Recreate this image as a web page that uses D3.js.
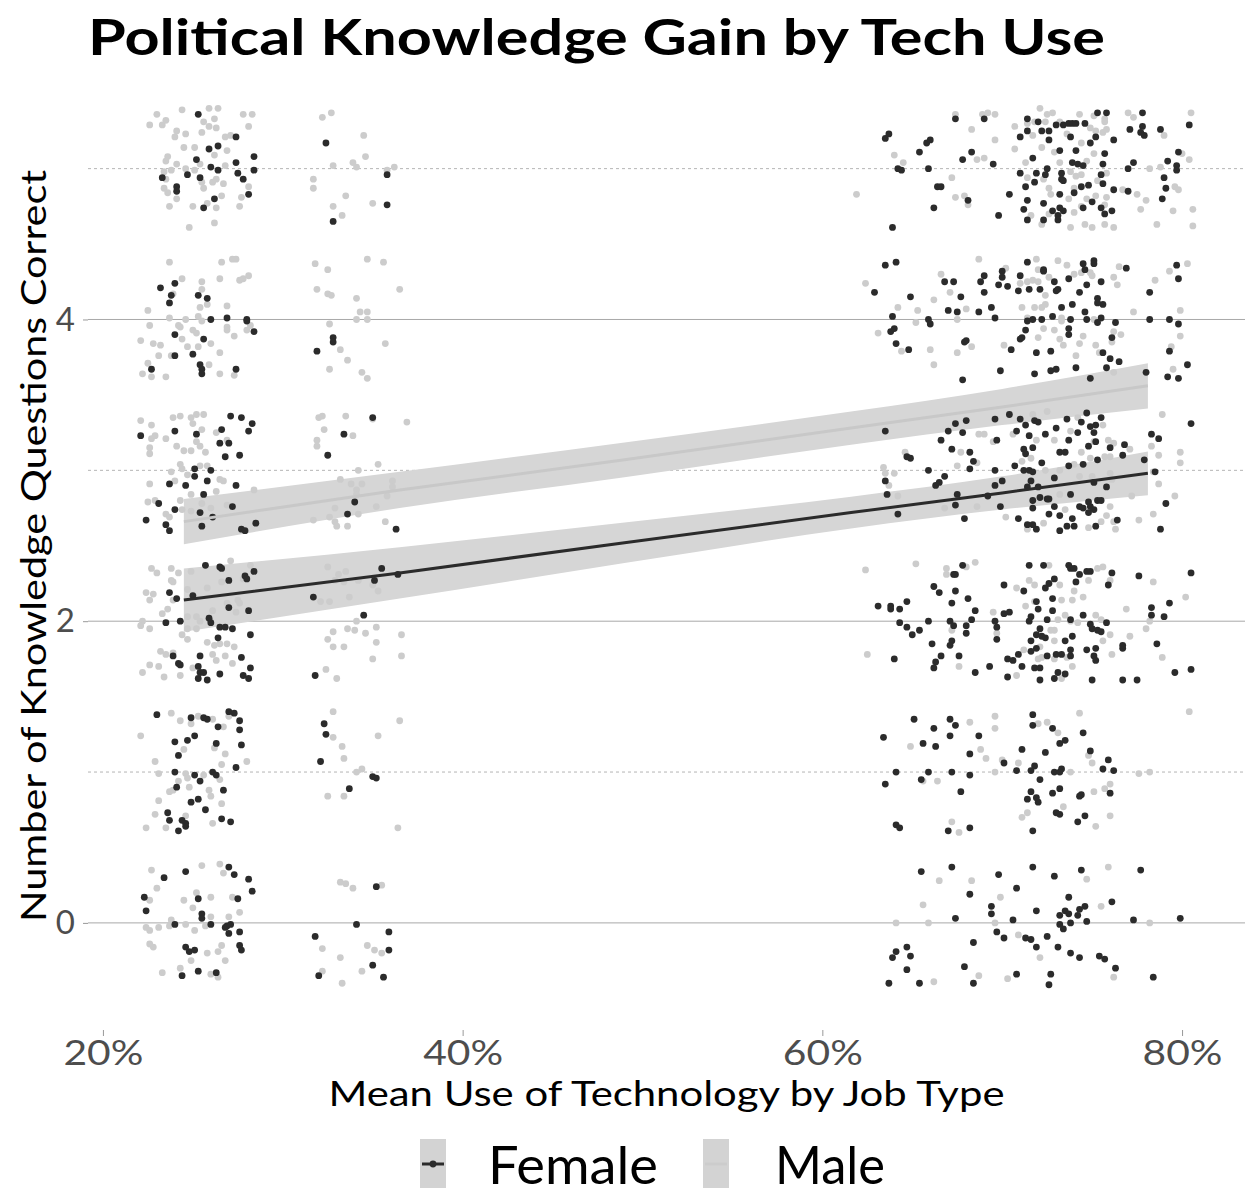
<!DOCTYPE html>
<html lang="en">
<head>
<meta charset="utf-8">
<script src="https://d3js.org/d3.v7.min.js"></script>
<style>
  body { margin: 0; background: #fff; }
  text { font-family: Lato, "Open Sans", sans-serif; }
</style>
</head>
<body>
<svg id="chart" width="1251" height="1195"></svg>
<script>
// jittered points: [mean tech use %, questions correct]
var femalePoints = [
  // low tech, 5
  [25.3,5.36],[27.4,5.21],[25.9,5.13],[26.4,5.15],[25.2,5.06],[27.4,5.04],[28.4,5.08],[26.0,5.01],[26.4,4.99],[23.3,4.94],
  [24.7,4.96],[25.4,4.94],[27.5,4.97],[27.8,4.93],[28.4,4.99],[24.1,4.88],[24.1,4.85],[28.1,4.83],[26.2,4.80],[25.6,4.74],
  [32.4,5.17],[35.8,4.96],[35.8,4.76],[32.8,4.65],
  // low tech, 4
  [23.2,4.21],[24.0,4.24],[23.8,4.16],[23.7,4.11],[25.3,4.16],[25.8,4.14],[26.0,4.00],[26.9,4.01],[28.0,4.00],[28.0,3.99],
  [28.4,3.92],[24.0,3.90],[25.6,3.87],[25.0,3.77],[24.0,3.76],[22.7,3.67],[25.4,3.70],[25.5,3.67],[25.5,3.64],[27.4,3.67],
  [31.9,3.79],[32.8,3.88],[32.8,3.85],
  // low tech, 3
  [22.1,3.23],[24.0,3.26],[25.2,3.24],[27.1,3.36],[27.7,3.35],[28.3,3.31],[26.6,3.27],[28.1,3.26],[26.5,3.18],[27.0,3.18],
  [26.8,3.09],[27.6,3.10],[25.1,3.01],[26.0,3.00],[25.1,2.96],[25.8,2.93],[23.7,2.91],[24.6,2.90],[27.4,2.90],[25.6,2.84],
  [23.1,2.78],[24.0,2.74],[27.2,2.76],[25.4,2.72],[26.1,2.69],[22.4,2.67],[25.5,2.63],[23.5,2.64],[23.7,2.60],[27.7,2.61],
  [27.9,2.60],[28.5,2.65],
  [32.5,3.10],[33.4,3.24],[35.0,3.35],[34.0,2.79],[33.6,2.71],[36.3,2.61],
  // low tech, 2
  [25.7,2.37],[26.5,2.36],[26.6,2.35],[28.4,2.33],[27.9,2.30],[28.0,2.28],[27.0,2.27],[23.7,2.19],[24.1,2.15],[25.0,2.17],
  [27.0,2.09],[28.1,2.07],[24.3,2.00],[23.5,1.99],[25.9,2.02],[26.0,1.99],[26.5,1.96],[26.8,1.96],[27.2,1.95],[28.2,1.91],
  [23.9,1.77],[26.4,1.89],[25.4,1.77],[27.7,1.76],[24.2,1.72],[24.3,1.71],[25.3,1.70],[28.2,1.69],[25.4,1.66],[25.6,1.66],
  [26.5,1.65],[27.8,1.64],[28.1,1.62],[25.3,1.62],[25.8,1.61],
  [31.7,2.16],[34.5,2.04],[31.8,1.64],[35.1,2.27],[35.5,2.35],[36.4,2.31],
  // low tech, 1
  [23.0,1.38],[24.9,1.36],[25.6,1.36],[25.8,1.35],[27.0,1.40],[27.3,1.39],[27.6,1.34],[26.4,1.30],[27.6,1.28],[24.0,1.20],
  [24.7,1.21],[25.1,1.24],[26.3,1.19],[27.7,1.18],[24.2,1.11],[27.4,1.03],[24.0,1.00],[25.1,0.98],[25.4,0.94],[26.1,1.00],
  [26.3,0.98],[24.1,0.90],[26.7,0.88],[24.9,0.80],[25.3,0.82],[25.7,0.75],[23.6,0.73],[23.7,0.68],[24.4,0.68],[24.6,0.66],
  [24.6,0.64],[24.2,0.61],[26.6,0.69],[27.1,0.67],
  [32.3,1.32],[32.4,1.25],[32.1,1.07],[35.0,0.97],[35.2,0.96],[33.7,0.89],
  // low tech, 0
  [24.6,0.34],[23.4,0.30],[27.0,0.37],[27.3,0.32],[28.1,0.29],[28.3,0.21],[22.3,0.17],[22.4,0.08],[25.3,0.16],[25.5,0.06],
  [25.5,0.03],[24.0,-0.01],[26.0,-0.01],[26.8,-0.03],[26.9,-0.02],[27.1,-0.01],[27.0,-0.07],[27.5,0.16],[27.6,-0.06],[27.6,-0.15],
  [27.7,-0.18],[24.6,-0.16],[24.8,-0.19],[25.1,-0.18],[25.3,-0.32],[24.4,-0.35],[26.3,-0.33],
  [35.2,0.24],[34.1,-0.01],[35.9,-0.06],[31.8,-0.09],[35.9,-0.18],[35.0,-0.28],[32.0,-0.35],[35.6,-0.36],
  // high tech, 5
  [63.5,5.20],[63.7,5.23],[64.2,5.00],[64.4,4.99],[63.9,4.61],[65.4,5.11],[65.8,5.17],[66.0,5.19],[65.9,5.00],[66.4,4.88],
  [66.6,4.88],[66.2,4.74],[67.4,5.33],[67.8,5.06],[68.3,5.11],[68.1,4.79],[69.0,5.33],[69.5,5.03],[69.8,4.69],[70.4,4.83],
  [71.0,5.21],[71.4,5.33],[71.4,5.25],[71.7,5.07],[72.0,5.31],[72.2,5.25],[72.6,5.25],[72.6,5.19],[73.0,5.29],[73.4,5.29],
  [73.7,5.30],[73.9,5.30],[74.1,5.30],[74.6,5.30],[75.3,5.37],[75.8,5.37],[73.8,5.21],[75.2,5.21],[76.2,5.19],[73.2,5.12],
  [74.1,5.12],[74.9,5.17],[75.7,5.10],[72.5,5.00],[71.9,4.97],[72.4,4.96],[71.0,4.97],[71.8,4.91],[71.3,4.88],[73.3,4.97],
  [73.9,5.04],[74.2,5.03],[74.5,5.02],[73.3,4.93],[73.4,4.92],[75.5,4.96],[75.6,5.03],[75.6,4.90],[74.8,4.89],[74.4,4.88],
  [76.2,4.86],[73.2,4.83],[71.4,4.79],[72.3,4.77],[71.2,4.73],[72.8,4.72],[73.2,4.74],[73.4,4.72],[73.1,4.69],[74.5,4.74],
  [75.0,4.78],[75.5,4.74],[75.7,4.70],[76.1,4.72],[71.4,4.66],[72.3,4.66],[73.1,4.66],[74.0,4.84],[77.0,5.00],[77.3,5.04],
  [77.0,4.85],[77.1,5.26],[77.8,5.37],[77.8,5.28],[77.7,5.24],[77.9,5.22],[78.8,5.26],[80.4,5.29],[79.8,5.11],[79.2,5.05],
  [79.7,5.02],[79.7,4.99],[79.0,4.94],[79.1,4.87],[78.9,4.80],
  // high tech, 4
  [63.5,4.36],[64.1,4.38],[62.9,4.18],[64.9,4.15],[63.9,4.02],[63.8,3.92],[64.0,3.94],[64.1,3.84],[64.8,3.80],[65.9,4.00],
  [66.0,3.97],[66.8,4.25],[67.3,4.25],[67.0,4.06],[67.5,4.05],[67.7,4.15],[67.9,3.85],[68.0,3.86],[67.8,3.60],[68.7,4.05],
  [68.8,4.25],[69.0,4.29],[69.0,4.18],[69.4,4.08],[69.6,4.01],[70.0,4.32],[70.0,4.28],[69.8,4.23],[70.3,4.22],[69.9,3.66],
  [70.5,3.80],[71.0,4.29],[70.9,4.19],[71.4,4.38],[71.5,4.20],[72.1,4.20],[72.3,4.33],[72.3,4.32],[71.4,3.99],[71.3,3.93],
  [71.0,3.87],[71.1,3.88],[71.7,4.00],[72.2,4.00],[71.9,3.78],[71.8,3.64],[72.7,3.79],[72.7,3.66],[73.0,3.67],[72.8,4.02],
  [72.9,4.25],[73.0,4.19],[73.1,4.20],[73.3,4.08],[73.7,4.27],[73.8,4.00],[73.9,4.10],[73.7,3.94],[73.7,3.90],[74.1,3.68],
  [74.3,4.18],[74.5,4.37],[74.6,4.33],[74.7,4.23],[75.1,4.39],[75.1,4.37],[74.6,4.05],[74.7,4.00],[75.3,4.14],[75.6,4.10],
  [75.3,4.11],[75.5,4.01],[75.3,3.98],[75.5,4.25],[76.1,3.88],[76.3,3.98],[75.6,3.78],[76.0,3.74],[76.5,3.72],[75.8,3.68],
  [74.9,3.61],[76.9,4.34],[78.2,4.18],[78.2,4.00],[79.3,4.00],[79.8,3.97],[79.8,4.27],[79.7,4.36],[79.3,3.79],[78.0,3.65],
  [79.2,3.62],[79.8,3.61],[80.3,3.70],
  // high tech, 3
  [63.5,3.26],[63.5,2.93],[63.6,2.84],[64.2,2.71],[64.7,3.09],[64.9,3.08],[65.9,3.00],[66.3,2.90],[66.5,2.92],[66.8,2.96],
  [66.6,3.20],[67.0,3.26],[67.4,3.31],[67.8,3.25],[68.0,3.33],[67.2,3.14],[68.2,3.12],[68.4,3.06],[68.2,3.01],[67.5,2.84],
  [67.4,2.77],[67.9,2.68],[69.2,2.83],[69.6,3.00],[69.6,2.90],[70.0,2.93],[69.7,3.20],[69.6,3.34],[70.4,3.37],[69.9,2.76],
  [70.9,2.68],[70.7,3.03],[70.8,3.26],[71.0,3.34],[71.3,3.30],[71.5,3.23],[71.2,3.14],[71.3,3.11],[71.7,3.15],[71.2,3.00],
  [71.5,3.00],[71.7,2.99],[71.4,2.89],[71.6,2.93],[72.0,2.89],[71.7,2.80],[71.7,2.75],[72.1,2.82],[72.5,2.81],[72.6,2.81],
  [72.6,2.71],[71.8,3.33],[72.0,3.32],[72.4,3.24],[73.0,3.28],[72.2,3.05],[72.9,2.95],[72.9,2.76],[73.2,2.70],[73.2,3.12],
  [73.5,3.12],[73.7,3.20],[73.6,3.34],[74.2,3.25],[74.4,3.32],[74.7,3.38],[74.9,3.29],[75.2,3.30],[75.1,3.25],[74.8,3.16],
  [75.2,3.19],[75.3,3.07],[74.5,3.04],[73.7,3.03],[73.8,2.84],[74.3,2.76],[74.5,2.75],[74.8,2.79],[74.9,2.76],[75.1,2.74],
  [74.8,2.72],[75.3,2.80],[75.5,2.80],[75.1,2.92],[75.8,2.89],[75.5,3.35],[76.0,3.15],[76.8,3.17],[76.7,3.10],[76.4,2.67],
  [77.9,3.07],[78.3,3.24],[78.7,3.21],[78.5,2.99],[79.1,2.78],[78.8,2.61],[80.5,3.31],[71.4,2.64],[71.7,2.64],[71.9,2.61],
  [73.2,2.60],[73.6,2.63],[74.0,2.63],[75.2,2.63],[73.9,2.68],
  // high tech, 2
  [63.1,2.10],[63.8,2.10],[63.8,2.08],[64.3,2.08],[64.7,2.13],[64.3,1.99],[64.7,1.96],[65.0,1.91],[65.4,1.94],[64.0,1.75],
  [65.9,2.00],[66.1,1.85],[66.6,1.77],[66.3,1.73],[66.2,1.69],[66.2,2.23],[66.5,2.19],[67.2,2.12],[67.4,2.20],[67.3,2.31],
  [67.4,2.31],[67.8,2.37],[68.1,2.15],[68.5,2.07],[67.1,2.00],[67.3,1.97],[68.0,1.97],[68.0,1.92],[68.3,2.01],[67.2,1.87],
  [67.1,1.84],[67.6,1.77],[68.5,1.66],[69.3,1.70],[69.6,2.00],[69.7,1.96],[69.7,1.88],[70.1,2.24],[70.4,2.06],[70.3,1.75],
  [70.6,1.74],[70.3,1.63],[71.1,1.70],[70.9,1.78],[71.5,2.37],[72.3,2.37],[72.4,2.22],[72.6,2.25],[72.9,2.28],[71.2,2.20],
  [71.9,2.13],[72.0,2.08],[72.8,2.15],[72.8,2.07],[71.6,2.03],[71.5,2.00],[72.5,2.01],[72.1,1.95],[71.9,1.91],[72.2,1.90],
  [72.4,1.89],[71.6,1.80],[71.9,1.82],[72.5,1.77],[73.0,1.78],[73.3,1.78],[73.8,1.77],[73.8,1.81],[73.9,1.90],[73.5,1.87],
  [71.8,1.69],[72.1,1.69],[72.1,1.61],[72.9,1.62],[73.1,1.66],[73.5,1.65],[73.7,2.37],[73.8,2.35],[74.0,2.35],[74.3,2.31],
  [74.7,2.33],[74.9,2.33],[74.1,2.26],[73.8,2.01],[74.5,2.04],[74.9,1.98],[75.0,1.95],[75.3,1.94],[75.5,1.93],[75.8,1.99],
  [74.7,1.81],[75.2,1.82],[75.1,1.77],[75.2,1.74],[75.0,1.61],[76.1,2.32],[75.9,2.24],[76.7,1.82],[76.7,1.84],[77.6,2.30],
  [76.7,1.61],[77.5,1.61],[78.3,2.09],[78.3,2.04],[79.0,2.03],[79.3,2.12],[78.6,1.85],[79.6,1.66],[80.5,1.68],[80.5,2.32],
  [70.1,2.05],[71.6,1.87],
  // high tech, 1
  [63.4,1.23],[64.1,1.00],[63.5,0.92],[64.1,0.65],[64.3,0.63],[65.1,1.35],[65.6,1.19],[66.2,1.29],[66.3,1.17],[65.9,1.00],
  [65.5,0.95],[67.1,1.35],[67.4,1.31],[67.1,1.24],[67.2,1.00],[67.7,0.87],[68.2,1.12],[68.2,0.98],[68.7,1.24],[68.2,0.63],
  [67.0,0.61],[70.1,1.06],[70.8,1.01],[71.1,1.15],[71.6,1.01],[71.8,1.04],[71.7,1.38],[71.7,1.31],[72.1,0.95],[72.4,1.13],
  [71.6,0.87],[71.4,0.82],[71.9,0.83],[72.0,0.80],[71.7,0.61],[72.8,1.29],[73.2,1.19],[73.5,1.21],[72.9,1.00],[73.2,1.00],
  [73.3,1.02],[73.2,0.89],[72.8,0.86],[73.0,0.73],[73.2,0.72],[74.5,1.26],[74.9,1.14],[74.3,0.84],[74.4,0.85],[74.6,0.71],
  [74.2,0.67],[75.6,1.02],[75.9,1.08],[76.2,1.01],[76.0,0.86],
  // high tech, 0
  [65.5,0.34],[67.2,0.37],[64.7,-0.16],[64.1,-0.19],[63.9,-0.23],[64.9,-0.22],[64.7,-0.31],[63.7,-0.40],[65.4,-0.40],[67.4,0.03],
  [68.2,0.19],[68.4,-0.13],[67.9,-0.29],[68.4,-0.40],[69.8,0.32],[69.4,0.11],[69.4,0.06],[69.7,-0.06],[70.1,-0.10],[70.6,0.02],
  [70.8,0.23],[70.8,-0.34],[71.3,-0.10],[71.6,-0.11],[71.7,0.37],[71.9,0.08],[71.9,-0.16],[72.5,-0.09],[72.6,-0.41],[72.7,-0.34],
  [72.9,0.31],[73.1,-0.16],[73.2,0.05],[73.5,0.08],[73.7,0.06],[73.2,-0.01],[73.4,-0.04],[73.8,0.00],[73.7,0.17],[74.3,0.09],
  [74.6,0.11],[74.2,0.05],[74.7,0.01],[74.4,0.35],[73.8,-0.20],[74.3,-0.23],[75.4,-0.22],[75.7,-0.24],[76.3,-0.30],[76.1,0.14],
  [77.3,0.02],[77.7,0.35],[78.4,-0.36],[79.9,0.03]
];

var malePoints = [
  // low tech, 5
  [23.0,5.36],[24.4,5.39],[25.9,5.40],[26.4,5.40],[27.8,5.36],[28.3,5.36],[22.6,5.29],[23.3,5.29],[23.5,5.32],[25.6,5.31],
  [26.2,5.33],[26.3,5.27],[25.9,5.28],[28.1,5.28],[24.1,5.25],[24.0,5.21],[24.6,5.23],[25.5,5.24],[26.8,5.21],[27.1,5.22],
  [24.5,5.14],[25.1,5.14],[26.9,5.12],[23.6,5.08],[23.5,5.05],[24.1,5.03],[26.2,5.09],[26.8,5.02],[23.4,4.98],[23.8,4.99],
  [24.6,5.00],[25.1,4.99],[25.4,5.03],[23.5,4.93],[25.5,4.91],[26.1,4.91],[26.3,4.93],[26.7,4.90],[23.4,4.87],[23.6,4.84],
  [25.6,4.87],[28.1,4.88],[27.7,4.81],[24.1,4.80],[26.6,4.82],[25.8,4.77],[23.7,4.75],[25.0,4.75],[26.3,4.74],[27.6,4.75],
  [24.8,4.61],[26.2,4.64],
  [32.2,5.34],[32.7,5.37],[34.5,5.22],[34.6,5.08],[32.8,5.02],[33.9,5.04],[34.1,5.01],[35.8,4.99],[36.2,5.01],[31.7,4.93],
  [31.7,4.87],[33.5,4.82],[32.8,4.75],[35.0,4.77],[33.3,4.69],
  // low tech, 4
  [23.7,4.38],[26.6,4.38],[27.2,4.40],[27.4,4.40],[24.4,4.27],[26.5,4.27],[27.6,4.26],[27.8,4.27],[28.1,4.29],[25.5,4.25],
  [25.5,4.20],[23.9,4.17],[22.5,4.06],[23.7,4.01],[24.6,4.00],[25.3,4.02],[25.4,4.08],[25.8,4.10],[26.9,4.09],[22.6,3.96],
  [24.2,3.96],[24.3,3.95],[25.5,3.99],[26.9,3.95],[26.9,3.93],[28.0,3.93],[28.2,3.96],[25.0,3.93],[25.2,3.91],[22.1,3.86],
  [22.8,3.84],[23.2,3.83],[24.4,3.87],[24.7,3.82],[25.3,3.82],[26.0,3.84],[27.3,3.89],[23.1,3.76],[23.8,3.76],[26.5,3.78],
  [22.5,3.71],[25.9,3.70],[22.2,3.64],[22.7,3.62],[23.5,3.62],[26.5,3.64],[27.3,3.63],
  [31.8,4.37],[32.5,4.33],[34.7,4.40],[35.6,4.38],[31.9,4.20],[32.5,4.17],[32.7,4.16],[36.5,4.20],[34.1,4.14],[34.3,4.05],
  [34.7,4.05],[34.1,4.00],[34.7,4.00],[32.6,3.97],[33.2,3.80],[33.6,3.73],[35.7,3.84],[32.6,3.67],[34.4,3.65],[34.7,3.61],
  // low tech, 3
  [22.1,3.33],[22.7,3.30],[22.7,3.21],[22.9,3.23],[22.6,3.15],[22.6,3.11],[23.5,3.21],[23.9,3.35],[24.3,3.36],[24.9,3.35],
  [25.2,3.37],[25.6,3.37],[25.0,3.31],[25.5,3.27],[25.2,3.19],[25.4,3.16],[25.7,3.12],[24.1,3.16],[24.5,3.13],[24.9,3.13],
  [24.3,3.04],[24.4,3.01],[23.8,2.99],[24.7,2.97],[25.4,3.03],[25.8,3.03],[26.5,2.94],[26.7,2.93],[26.3,2.86],[22.6,2.91],
  [24.0,2.93],[24.9,2.84],[24.3,2.80],[24.4,2.74],[22.5,2.79],[22.9,2.80],[23.5,2.71],[23.7,2.69],[26.9,2.77],[26.9,3.20],
  [26.3,3.25],[28.4,2.87],[26.0,2.75],[24.9,2.73],[25.5,2.78],
  [32.0,3.35],[32.2,3.36],[33.5,3.36],[33.9,3.23],[35.0,3.34],[36.9,3.32],[32.3,3.27],[31.9,3.20],[31.9,3.16],[34.2,3.00],
  [35.3,3.04],[33.2,2.94],[33.8,2.91],[34.4,2.91],[34.1,2.87],[34.1,2.84],[36.1,2.93],[36.1,2.89],[35.8,2.83],[32.9,2.75],
  [35.2,2.76],[34.2,2.71],[32.6,2.69],[31.7,2.67],[32.9,2.66],[33.0,2.63],[33.6,2.63],[35.7,2.66],
  // low tech, 2
  [22.7,2.35],[23.0,2.32],[23.8,2.35],[24.2,2.32],[23.8,2.27],[23.9,2.26],[22.4,2.19],[22.8,2.18],[22.6,2.14],[23.9,2.14],
  [24.7,2.21],[24.9,2.33],[25.8,2.22],[26.6,2.26],[27.1,2.40],[28.2,2.37],[27.8,2.28],[27.5,2.14],[27.6,2.12],[26.9,2.12],
  [27.4,2.06],[23.3,2.05],[23.6,2.08],[26.1,2.07],[24.7,2.03],[25.2,2.03],[25.4,2.00],[22.2,2.00],[22.1,1.97],[22.6,1.95],
  [24.7,1.95],[25.2,1.95],[24.4,1.91],[24.7,1.88],[25.8,1.86],[26.2,1.84],[26.5,1.85],[26.9,1.85],[27.3,1.83],[23.2,1.80],
  [23.5,1.78],[23.9,1.79],[26.1,1.78],[26.3,1.74],[26.8,1.77],[22.6,1.71],[23.1,1.70],[22.2,1.66],[23.4,1.63],[24.3,1.64],
  [25.0,1.69],[27.2,1.72],
  [32.5,2.36],[33.1,2.31],[33.5,2.33],[32.9,2.27],[33.4,2.26],[34.2,2.27],[35.0,2.24],[35.3,2.20],[33.7,2.16],[32.6,2.13],
  [32.1,2.13],[34.1,2.00],[34.0,1.94],[33.6,1.95],[34.6,1.92],[32.8,1.93],[32.5,1.88],[32.8,1.83],[33.4,1.83],[35.2,1.96],
  [35.2,1.86],[36.6,1.91],[36.6,1.77],[35.0,1.75],[32.4,1.68],[33.0,1.62],
  // low tech, 1
  [23.8,1.39],[24.3,1.34],[24.9,1.32],[25.3,1.37],[26.1,1.35],[27.0,1.37],[26.7,1.30],[22.1,1.24],[22.9,1.07],[23.1,0.99],
  [24.5,1.15],[26.2,1.16],[26.8,1.12],[26.6,1.05],[28.0,1.07],[24.6,0.99],[24.7,0.96],[25.6,0.98],[26.5,0.95],[24.2,0.94],
  [24.8,0.90],[23.7,0.87],[23.9,0.88],[25.9,0.88],[26.0,0.84],[23.1,0.81],[26.6,0.79],[22.9,0.72],[24.6,0.71],[26.1,0.66],
  [22.4,0.63],[23.5,0.63],
  [32.8,1.40],[36.5,1.34],[32.8,1.23],[35.3,1.24],[33.3,1.17],[33.4,1.09],[34.1,1.00],[34.4,1.02],[32.5,0.84],[33.4,0.84],
  [36.4,0.63],
  // low tech, 0
  [22.7,0.35],[23.0,0.23],[22.6,0.15],[24.5,0.15],[25.0,0.10],[25.2,0.20],[25.5,0.38],[26.5,0.39],[26.7,0.33],[26.0,0.17],
  [27.2,0.17],[27.6,0.07],[27.0,0.04],[26.0,0.04],[23.8,0.02],[23.7,-0.02],[24.6,-0.01],[25.7,-0.02],[22.4,-0.03],[22.6,-0.05],
  [23.1,-0.03],[25.1,-0.05],[22.6,-0.14],[22.8,-0.16],[26.6,-0.15],[26.4,-0.19],[25.8,-0.20],[24.9,-0.25],[26.8,-0.25],[24.3,-0.30],
  [23.3,-0.33],[26.0,-0.34],[26.4,-0.36],
  [33.2,0.27],[33.5,0.26],[33.9,0.23],[35.5,0.25],[32.2,-0.17],[33.2,-0.23],[34.7,-0.15],[35.1,-0.18],[35.5,-0.20],[34.4,-0.32],
  [32.2,-0.32],[33.3,-0.40],
  // high tech, 5
  [61.9,4.83],[64.0,5.09],[64.5,5.04],[67.2,4.94],[67.4,4.81],[67.9,4.82],[68.1,4.76],[67.4,5.36],[68.3,5.26],[68.6,5.06],
  [69.0,5.07],[68.9,5.36],[69.2,5.37],[69.6,5.36],[69.6,5.19],[70.7,5.13],[70.7,5.28],[71.3,5.04],[72.1,5.40],[72.5,5.36],
  [72.8,5.37],[74.3,5.36],[75.1,5.35],[75.7,5.33],[75.7,5.31],[71.4,5.30],[71.8,5.31],[72.4,5.31],[73.2,5.31],[74.9,5.27],
  [75.2,5.25],[75.6,5.24],[75.8,5.26],[71.7,5.22],[72.2,5.14],[72.9,5.11],[73.6,5.23],[74.4,5.17],[73.2,5.04],[73.8,4.98],
  [74.1,4.95],[74.4,4.96],[74.7,5.05],[75.1,5.10],[75.3,4.92],[75.8,4.97],[71.4,4.94],[72.3,4.93],[72.6,4.87],[72.7,4.83],
  [73.7,4.80],[74.0,4.87],[74.7,4.80],[75.2,4.82],[75.8,4.81],[75.7,4.76],[74.0,4.71],[74.4,4.75],[72.2,4.63],[73.8,4.61],
  [74.6,4.63],[75.0,4.61],[75.7,4.63],[76.2,4.61],[71.6,4.69],[72.6,4.70],[77.0,5.37],[77.3,5.34],[79.0,5.22],[78.2,5.00],
  [78.8,5.01],[80.4,5.06],[80.5,5.37],[80.0,5.10],[79.6,4.88],[79.8,4.86],[77.5,4.83],[78.0,4.79],[77.7,4.73],[79.5,4.72],
  [80.6,4.73],[78.6,4.63],[80.6,4.62],[76.7,4.86],
  // high tech, 4
  [62.4,4.24],[63.1,3.91],[64.2,4.08],[65.3,4.06],[65.2,3.98],[66.2,4.13],[66.0,3.80],[66.2,3.70],[66.6,4.30],[67.1,4.18],
  [67.5,4.00],[68.0,4.07],[67.5,3.78],[68.3,3.82],[68.7,4.40],[70.1,3.83],[70.2,4.34],[71.0,4.24],[71.4,4.25],[71.7,4.26],
  [71.9,4.40],[72.0,4.33],[72.0,4.25],[72.6,4.28],[72.4,4.16],[71.1,4.08],[71.4,4.01],[71.8,4.08],[72.2,4.08],[72.4,4.10],
  [72.0,3.88],[72.3,3.94],[72.9,3.93],[73.2,3.87],[73.4,3.83],[73.3,4.01],[73.3,3.99],[73.1,4.39],[73.6,4.36],[74.0,4.30],
  [74.4,4.31],[74.9,4.31],[75.0,4.29],[76.4,4.23],[76.5,4.35],[76.2,4.28],[74.1,3.76],[74.3,3.84],[74.5,3.89],[75.1,4.00],
  [75.2,3.83],[75.4,3.78],[76.2,3.92],[76.6,3.90],[76.1,3.85],[76.2,3.65],[77.3,4.05],[78.5,4.26],[79.3,4.32],[80.3,4.37],
  [79.9,4.06],[79.9,3.89],[79.4,3.82],[79.5,3.67],[64.4,3.79],
  // high tech, 3
  [63.4,3.02],[63.5,2.98],[63.7,2.90],[64.0,2.98],[64.2,2.83],[64.6,3.12],[66.8,2.75],[67.5,3.03],[67.7,3.12],[68.6,3.05],
  [68.7,3.24],[69.0,3.24],[68.6,2.76],[69.5,3.19],[70.2,2.69],[70.6,3.24],[71.1,3.06],[71.6,3.08],[71.7,3.37],[72.5,3.39],
  [71.9,3.20],[72.9,3.20],[73.8,3.26],[74.2,3.35],[74.4,3.12],[74.9,3.08],[75.1,3.19],[75.6,3.30],[72.4,3.00],[73.2,3.00],
  [73.2,2.84],[73.5,2.74],[74.0,3.04],[74.3,2.96],[75.0,2.96],[75.7,3.09],[76.0,3.09],[75.9,3.20],[76.2,3.18],[76.0,2.98],
  [76.1,2.94],[76.0,2.76],[75.8,2.70],[76.2,2.66],[76.3,2.61],[74.8,2.62],[75.5,2.66],[72.3,2.65],[71.4,2.61],[77.2,2.83],
  [77.6,2.67],[78.4,2.71],[78.3,3.16],[78.7,3.10],[78.9,3.37],[79.9,3.12],[79.9,3.05],[78.7,2.91],[79.6,2.83],[78.4,2.99],
  [77.1,3.14],
  // high tech, 2
  [62.4,2.34],[62.5,1.78],[65.2,2.38],[66.9,2.35],[66.9,2.31],[68.0,2.36],[68.5,2.39],[67.2,1.94],[67.6,1.70],[69.5,2.06],
  [69.7,1.92],[70.8,2.22],[70.8,1.64],[71.3,2.10],[71.5,2.27],[71.8,2.24],[71.8,2.13],[72.6,2.37],[73.2,2.24],[73.3,2.14],
  [73.9,2.14],[74.5,2.16],[74.8,2.27],[75.3,2.35],[75.6,2.36],[76.0,2.27],[73.1,2.01],[72.9,1.94],[72.7,1.94],[73.5,2.04],
  [73.8,2.00],[74.2,1.99],[75.2,2.04],[75.5,2.01],[76.0,1.91],[75.6,1.87],[72.9,1.87],[72.1,1.83],[71.2,1.81],[72.0,1.75],
  [72.2,1.76],[72.9,1.75],[73.6,1.76],[73.9,1.70],[73.3,1.62],[76.1,1.78],[76.9,2.08],[77.1,1.90],[78.0,1.95],[78.2,2.00],
  [78.4,2.26],[78.9,1.76],[80.2,2.16],[74.0,2.20],
  // high tech, 1
  [64.9,1.17],[65.6,0.94],[66.4,0.94],[67.2,0.67],[67.6,0.60],[68.2,1.33],[68.8,1.15],[69.1,1.09],[69.6,1.37],[69.6,1.29],
  [69.6,1.00],[70.0,1.08],[70.9,1.06],[71.1,0.70],[71.4,0.73],[72.0,1.32],[72.5,1.33],[73.1,1.26],[73.4,0.77],[73.8,1.00],
  [74.3,1.39],[74.8,1.11],[75.0,1.06],[75.1,0.87],[75.2,0.64],[75.7,0.89],[76.0,0.92],[76.0,0.71],[77.6,0.99],[78.2,1.00],
  [80.4,1.40],
  // high tech, 0
  [64.1,0.00],[65.6,0.12],[65.9,0.00],[66.5,0.28],[68.3,0.28],[66.2,-0.39],[68.7,-0.35],[69.9,0.17],[69.6,0.00],[70.3,-0.37],
  [70.9,-0.08],[72.1,-0.23],[74.7,0.29],[75.5,0.11],[75.9,0.37],[76.2,-0.36],[78.2,0.00]
];

// linear fits with 95% bands, read at a few x positions
var bandX      = [24.5, 36.5, 49.0, 61.6, 70.0, 78.1];
var femaleFit  = [2.14, 2.32, 2.52, 2.72, 2.85, 2.98];
var femaleLow  = [1.93, 2.15, 2.385, 2.615, 2.74, 2.835];
var femaleHigh = [2.35, 2.49, 2.655, 2.825, 2.96, 3.125];
var maleFit    = [2.66, 2.87, 3.07, 3.28, 3.42, 3.56];
var maleLow    = [2.51, 2.75, 2.955, 3.17, 3.30, 3.41];
var maleHigh   = [2.81, 2.99, 3.185, 3.39, 3.54, 3.71];

var xTicks = [20, 40, 60, 80];
var yMajor = [0, 2, 4];
var yMinor = [1, 3, 5];

var svg = d3.select('#chart');
var plotLeft = 88, plotRight = 1245, plotTop = 57, plotBottom = 1030;

var x = d3.scaleLinear().domain([19.17, 83.5]).range([plotLeft, plotRight]);
var y = d3.scaleLinear().domain([-0.71, 5.74]).range([plotBottom, plotTop]);

// gridlines
svg.append('g').selectAll('line').data(yMinor).enter().append('line')
  .attr('x1', plotLeft).attr('x2', plotRight)
  .attr('y1', function(d){ return y(d); }).attr('y2', function(d){ return y(d); })
  .attr('stroke', '#b5b5b5').attr('stroke-width', 1).attr('stroke-dasharray', '3,3');
svg.append('g').selectAll('line').data(yMajor).enter().append('line')
  .attr('x1', plotLeft).attr('x2', plotRight)
  .attr('y1', function(d){ return y(d); }).attr('y2', function(d){ return y(d); })
  .attr('stroke', '#a8a8a8').attr('stroke-width', 1);

// axes
var xAxis = svg.append('g').attr('transform', 'translate(0,' + plotBottom + ')')
  .call(d3.axisBottom(x).tickValues(xTicks).tickSize(6).tickPadding(5)
    .tickFormat(function(d){ return d + '%'; }));
xAxis.select('.domain').remove();
xAxis.selectAll('line').attr('stroke', '#999');
xAxis.selectAll('text').attr('fill', '#4d4d4d').style('font-size', '34px')
  .style('font-family', 'Lato, sans-serif')
  .attr('textLength', 80).attr('lengthAdjust', 'spacingAndGlyphs');

var yAxis = svg.append('g').attr('transform', 'translate(' + plotLeft + ',0)')
  .call(d3.axisLeft(y).tickValues(yMajor).tickSize(5).tickPadding(8).tickFormat(d3.format('d')));
yAxis.select('.domain').remove();
yAxis.selectAll('line').attr('stroke', '#999');
yAxis.selectAll('text').attr('fill', '#4d4d4d').style('font-size', '33px')
  .style('font-family', 'Lato, sans-serif');

// confidence bands
var band = function(lo, hi) {
  return d3.area().curve(d3.curveMonotoneX)
    .x(function(d, i){ return x(bandX[i]); })
    .y0(function(d, i){ return y(lo[i]); })
    .y1(function(d, i){ return y(hi[i]); });
};
svg.append('path').attr('d', band(maleLow, maleHigh)(bandX)).attr('fill', '#d6d6d6');
svg.append('path').attr('d', band(femaleLow, femaleHigh)(bandX)).attr('fill', '#d6d6d6');

// points
svg.append('g').selectAll('circle').data(malePoints).enter().append('circle')
  .attr('cx', function(d){ return x(d[0]); }).attr('cy', function(d){ return y(d[1]); })
  .attr('r', 3.4).attr('fill', '#cccccc');
svg.append('g').selectAll('circle').data(femalePoints).enter().append('circle')
  .attr('cx', function(d){ return x(d[0]); }).attr('cy', function(d){ return y(d[1]); })
  .attr('r', 3.4).attr('fill', '#2b2b2b');

// fitted lines
var fitLine = function(vals) {
  return d3.line().x(function(d, i){ return x(bandX[i]); }).y(function(d, i){ return y(vals[i]); })(bandX);
};
svg.append('path').attr('d', fitLine(maleFit)).attr('fill', 'none')
  .attr('stroke', '#c8c8c8').attr('stroke-width', 3);
svg.append('path').attr('d', fitLine(femaleFit)).attr('fill', 'none')
  .attr('stroke', '#2b2b2b').attr('stroke-width', 3);

// titles
svg.append('text').attr('x', 88).attr('y', 55)
  .attr('textLength', 1017).attr('lengthAdjust', 'spacingAndGlyphs')
  .style('font-size', '50px').style('font-weight', 'bold').attr('fill', '#000')
  .text('Political Knowledge Gain by Tech Use');

svg.append('text').attr('x', (plotLeft + plotRight) / 2).attr('y', 1106)
  .attr('text-anchor', 'middle').attr('textLength', 676).attr('lengthAdjust', 'spacingAndGlyphs')
  .style('font-size', '35px').attr('fill', '#000')
  .text('Mean Use of Technology by Job Type');

svg.append('text').attr('transform', 'translate(46,546) rotate(-90)')
  .attr('text-anchor', 'middle').attr('textLength', 752).attr('lengthAdjust', 'spacingAndGlyphs')
  .style('font-size', '35px').attr('fill', '#000')
  .text('Number of Knowledge Questions Correct');

// legend
var legend = svg.append('g');
legend.append('rect').attr('x', 420).attr('y', 1139).attr('width', 26).attr('height', 49).attr('fill', '#d3d3d3');
legend.append('line').attr('x1', 422).attr('x2', 444).attr('y1', 1164).attr('y2', 1164)
  .attr('stroke', '#2b2b2b').attr('stroke-width', 3);
legend.append('circle').attr('cx', 433).attr('cy', 1164).attr('r', 3.4).attr('fill', '#2b2b2b');
legend.append('text').attr('x', 488).attr('y', 1184)
  .attr('textLength', 170).attr('lengthAdjust', 'spacingAndGlyphs')
  .style('font-size', '52px').attr('fill', '#000').text('Female');

legend.append('rect').attr('x', 703).attr('y', 1139).attr('width', 26).attr('height', 49).attr('fill', '#d3d3d3');
legend.append('line').attr('x1', 705).attr('x2', 727).attr('y1', 1164).attr('y2', 1164)
  .attr('stroke', '#cccccc').attr('stroke-width', 3);
legend.append('text').attr('x', 775).attr('y', 1184)
  .attr('textLength', 110).attr('lengthAdjust', 'spacingAndGlyphs')
  .style('font-size', '52px').attr('fill', '#000').text('Male');
</script>
</body>
</html>
